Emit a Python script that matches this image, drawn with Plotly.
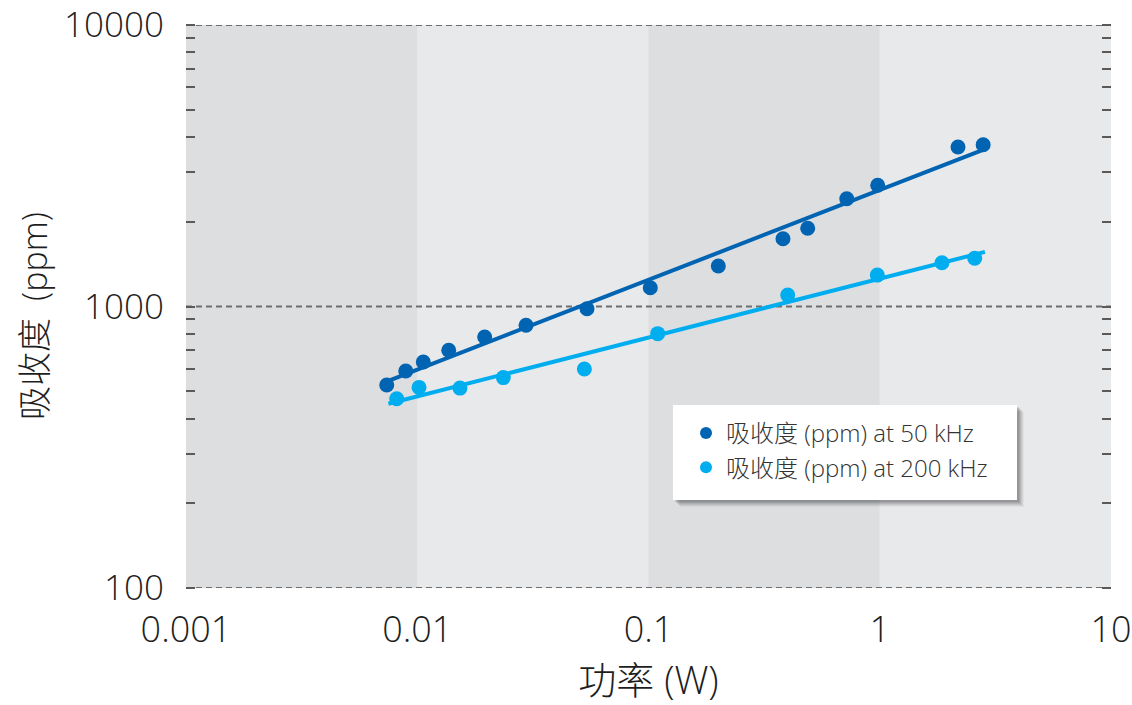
import numpy as np
import plotly.graph_objects as go

# Measured absorption versus power, two modulation frequencies
power_50k = [0.00738, 0.00892, 0.01062, 0.01368, 0.01957, 0.02954, 0.0542, 0.1018,
             0.2004, 0.3815, 0.488, 0.72, 0.98, 2.18, 2.80]
abs_50k = [526, 590, 635, 699, 779, 858, 982, 1166, 1393, 1741, 1896, 2415, 2696, 3687, 3757]

power_200k = [0.00815, 0.01018, 0.0153, 0.02356, 0.0528, 0.1096, 0.40, 0.976, 1.858, 2.574]
abs_200k = [470, 516, 513, 559, 600, 801, 1099, 1293, 1430, 1484]

# x extent of the power-law trend lines
fit_span = [0.0075, 2.85]

x_ticks = [0.001, 0.01, 0.1, 1, 10]
x_tick_labels = ["0.001", "0.01", "0.1", "1", "10"]
y_ticks = [100, 1000, 10000]
y_tick_labels = ["100", "1000", "10000"]

# alternating background bands per decade
band_edges = [0.001, 0.01, 0.1, 1, 10]

names = ["吸收度 (ppm) at 50 kHz", "吸收度 (ppm) at 200 kHz"]
colors = ["#0064b2", "#00aeef"]

FONT = "Open Sans, Noto Sans CJK SC, Noto Sans, sans-serif"
TXT = "#1e1e1e"

W, H = 1132, 705
L, R, T, B = 186, 21, 25, 117
PW, PH = W - L - R, H - T - B


def px_to_paper(x, y):
    return (x - L) / PW, (H - B - y) / PH


def power_fit(xs, ys):
    slope, icpt = np.polyfit(np.log10(xs), np.log10(ys), 1)
    lx = np.array(fit_span, dtype=float)
    return lx, 10 ** (icpt + slope * np.log10(lx))


fig = go.Figure()

for xs, ys, col in [(power_50k, abs_50k, colors[0]), (power_200k, abs_200k, colors[1])]:
    lx, ly = power_fit(xs, ys)
    fig.add_trace(go.Scatter(x=lx, y=ly, mode="lines", line=dict(color=col, width=4),
                             showlegend=False, hoverinfo="skip"))

for xs, ys, name, col in [(power_50k, abs_50k, names[0], colors[0]),
                          (power_200k, abs_200k, names[1], colors[1])]:
    fig.add_trace(go.Scatter(x=xs, y=ys, mode="markers", name=name,
                             marker=dict(color=col, size=15, line=dict(width=0))))

# empty trace that keeps the right-hand tick axis alive
fig.add_trace(go.Scatter(x=[None], y=[None], yaxis="y2", showlegend=False, hoverinfo="skip"))

shapes = []
band_colors = ["#dddee0", "#e8e9eb"]
for i in range(len(band_edges) - 1):
    shapes.append(dict(type="rect", xref="x", yref="paper", x0=band_edges[i], x1=band_edges[i + 1],
                       y0=0, y1=1, fillcolor=band_colors[i % 2], line=dict(width=0), layer="below"))

# dashed decade lines
for v in y_ticks:
    shapes.append(dict(type="line", xref="paper", yref="y", x0=0, x1=1, y0=v, y1=v,
                       line=dict(color="#6e6e6e", width=1.8, dash="6px,4px"), layer="below"))

# legend panel with a soft drop shadow
bx0, by0, bx1, by1 = 673, 405, 1017, 500
for off, op in [(7, 0.05), (6, 0.07), (5, 0.09), (4, 0.11), (3, 0.13), (2, 0.15)]:
    a0, a1 = px_to_paper(bx0 + off, by0 + off)
    c0, c1 = px_to_paper(bx1 + off, by1 + off)
    shapes.append(dict(type="rect", xref="paper", yref="paper", x0=a0, x1=c0, y0=c1, y1=a1,
                       fillcolor="rgba(60,60,60,%.2f)" % op, line=dict(width=0), layer="above"))
a0, a1 = px_to_paper(bx0, by0)
c0, c1 = px_to_paper(bx1, by1)
shapes.append(dict(type="rect", xref="paper", yref="paper", x0=a0, x1=c0, y0=c1, y1=a1,
                   fillcolor="white", line=dict(width=0), layer="above"))

lgx, lgy = px_to_paper(686, 411)
ytx, yty = px_to_paper(34, 316)

yrange = [np.log10(y_ticks[0]), np.log10(y_ticks[-1])]
minor_ticks = dict(ticks="inside", ticklen=9, tickcolor="#5a5a5a", tickwidth=1.5,
                   showgrid=False, dtick="D1")

fig.update_layout(
    width=W, height=H,
    margin=dict(l=L, r=R, t=T, b=B, autoexpand=False),
    paper_bgcolor="white",
    plot_bgcolor="#e8e9eb",
    font=dict(family=FONT, color=TXT, weight=300),
    shapes=shapes,
    annotations=[dict(text="吸收度\u2002(ppm)", textangle=-90, xref="paper", yref="paper",
                      x=ytx, y=yty, xanchor="center", yanchor="middle", showarrow=False,
                      font=dict(size=34, color=TXT, family=FONT, weight=300))],
    showlegend=True,
    legend=dict(x=lgx, y=lgy, xanchor="left", yanchor="top", bgcolor="rgba(0,0,0,0)",
                font=dict(size=24, color="#333333", family=FONT, weight=300),
                itemsizing="constant", tracegroupgap=0),
    xaxis=dict(type="log", range=[np.log10(band_edges[0]), np.log10(band_edges[-1])],
               tickvals=x_ticks, ticktext=x_tick_labels, ticks="", showgrid=False,
               zeroline=False, showline=False, ticklabelstandoff=17,
               ticklabeloverflow="allow",
               tickfont=dict(size=36, color=TXT, family=FONT, weight=300),
               title=dict(text="功率 (W)", standoff=27,
                          font=dict(size=38, color=TXT, family=FONT, weight=300))),
    yaxis=dict(type="log", range=yrange,
               tickvals=y_ticks, ticktext=y_tick_labels, ticks="", showgrid=False,
               zeroline=False, showline=False, ticklabelstandoff=21,
               ticklabeloverflow="allow",
               minor=minor_ticks,
               tickfont=dict(size=35, color=TXT, family=FONT, weight=300)),
    yaxis2=dict(type="log", range=yrange, overlaying="y", side="right",
                tickvals=y_ticks, ticks="", showticklabels=False, showgrid=False,
                zeroline=False, showline=False, minor=minor_ticks),
)

fig.write_html("out.html")
